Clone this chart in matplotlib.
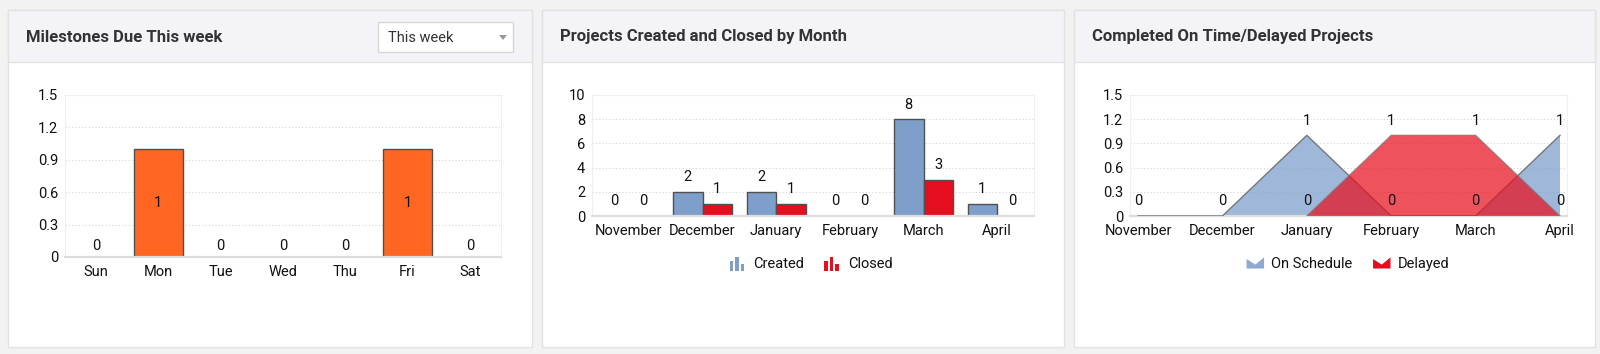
import numpy as np
import matplotlib.pyplot as plt
from matplotlib.patches import Rectangle, Polygon
from matplotlib.legend_handler import HandlerBase
from matplotlib.ticker import FuncFormatter

plt.rcParams['font.family'] = ['Roboto', 'DejaVu Sans']

# ---------------- DATA ----------------
days = ["Sun", "Mon", "Tue", "Wed", "Thu", "Fri", "Sat"]
milestones = [0, 1, 0, 0, 0, 1, 0]

months = ["November", "December", "January", "February", "March", "April"]
created = [0, 2, 2, 0, 8, 1]
closed = [0, 1, 1, 0, 3, 0]

on_schedule = [0, 0, 1, 0, 0, 1]
delayed = [np.nan, np.nan, 0, 1, 1, 0]

# ---------------- STYLE ----------------
W, H = 1600, 354
ORANGE = "#ff6622"
BLUE = "#7f9fcb"
RED = "#e50e1e"
EDGE = "#505050"
TXT = "#111111"
FS = 10.5


def fig_rect(x0, y0, x1, y1):
    # pixel box (from top-left) -> figure fraction [l, b, w, h]
    return [x0 / W, 1 - y1 / H, (x1 - x0) / W, (y1 - y0) / H]


class BarIcon(HandlerBase):
    def create_artists(self, legend, orig_handle, xdescent, ydescent,
                       width, height, fontsize, trans):
        color = orig_handle.get_facecolor()
        bw = width / 4.2
        arts = []
        for k, hf in enumerate([0.7, 1.0, 0.45]):
            arts.append(Rectangle((-xdescent + k * bw * 1.6, -ydescent), bw, height * hf,
                                  facecolor=color, edgecolor="none", transform=trans))
        return arts


class AreaIcon(HandlerBase):
    def create_artists(self, legend, orig_handle, xdescent, ydescent,
                       width, height, fontsize, trans):
        color = orig_handle.get_facecolor()
        x0, y0 = -xdescent, -ydescent
        pts = [(0, 0), (0, 0.85), (0.5, 0.35), (1, 1), (1, 0)]
        poly = Polygon([(x0 + px * width, y0 + py * height) for px, py in pts],
                       closed=True, facecolor=color, edgecolor="none", transform=trans)
        return [poly]


def style_axes(ax, ticks):
    ax.set_ylim(ticks[0], ticks[-1])
    ax.set_yticks(ticks)
    ax.yaxis.set_major_formatter(FuncFormatter(lambda v, p: f"{v:g}"))
    ax.yaxis.grid(True, linestyle=(0, (1, 2)), color="#d5d5d5", lw=0.8)
    ax.set_axisbelow(True)
    for s in ["top", "right", "left"]:
        ax.spines[s].set_color("#efefef")
    ax.spines["bottom"].set_color("#dddddd")
    ax.spines["bottom"].set_linewidth(1.6)
    ax.tick_params(length=0, labelsize=FS, colors=TXT)
    ax.tick_params(axis="y", pad=5)
    ax.tick_params(axis="x", pad=6)


def value_label(ax, x, y, text, dy=10.5):
    ax.annotate(text, (x, y), xytext=(0, dy), textcoords="offset points",
                ha="center", va="center", fontsize=FS, color=TXT, zorder=10)


fig = plt.figure(figsize=(16, 3.54), dpi=100)
fig.patch.set_facecolor("#f2f2f2")

# ---------------- Panels ----------------
panels = [(8, 532, "Milestones Due This week"),
          (542, 1064, "Projects Created and Closed by Month"),
          (1074, 1595, "Completed On Time/Delayed Projects")]
for x0, x1, title in panels:
    l, b, w, h = fig_rect(x0, 10, x1, 347)
    fig.add_artist(Rectangle((l, b), w, h, transform=fig.transFigure, zorder=-10,
                             facecolor="white", edgecolor="#e2e2e2", lw=1))
    l, b, w, h = fig_rect(x0, 10, x1, 62)
    fig.add_artist(Rectangle((l, b), w, h, transform=fig.transFigure, zorder=-9,
                             facecolor="#f4f4f8", edgecolor="#e2e2e2", lw=1))
    fig.text((x0 + 18) / W, 1 - 37 / H, title, fontsize=12, fontweight="bold",
             color="#333333", va="center")

# dropdown in first panel
l, b, w, h = fig_rect(378, 22, 513, 52)
fig.add_artist(Rectangle((l, b), w, h, transform=fig.transFigure, zorder=-8,
                         facecolor="white", edgecolor="#d6d6d6", lw=1))
fig.text(388 / W, 1 - 37.5 / H, "This week", fontsize=10.5, color="#333333", va="center")
fig.add_artist(Polygon([(499 / W, 1 - 35 / H), (507 / W, 1 - 35 / H), (503 / W, 1 - 40 / H)],
                       closed=True, transform=fig.transFigure, facecolor="#999999",
                       edgecolor="none"))

# ---------------- Chart 1: Milestones ----------------
ax1 = fig.add_axes(fig_rect(65, 95, 501, 257))
x = np.arange(len(days))
ax1.bar(x, milestones, width=0.78, color=ORANGE,
        edgecolor=[EDGE if v else "none" for v in milestones], lw=1)
style_axes(ax1, np.linspace(0, 1.5, 6))
ax1.set_xlim(-0.5, len(days) - 0.5)
ax1.set_xticks(x)
ax1.set_xticklabels(days)
for i, v in enumerate(milestones):
    if v:
        value_label(ax1, i, v / 2, str(v), dy=0)
    else:
        value_label(ax1, i, 0, str(v), dy=8)

# ---------------- Chart 2: Created / Closed ----------------
ax2 = fig.add_axes(fig_rect(592, 95, 1034, 216))
x = np.arange(len(months))
ax2.bar(x - 0.2, created, width=0.4, color=BLUE,
        edgecolor=[EDGE if v else "none" for v in created], lw=1)
ax2.bar(x + 0.2, closed, width=0.4, color=RED,
        edgecolor=[EDGE if v else "none" for v in closed], lw=1)
style_axes(ax2, np.arange(0, 11, 2))
ax2.set_xlim(-0.5, len(months) - 0.5)
ax2.set_xticks(x)
ax2.set_xticklabels(months)
for i in range(len(months)):
    value_label(ax2, i - 0.2, created[i], str(created[i]))
    value_label(ax2, i + 0.2, closed[i], str(closed[i]))

h_created = Rectangle((0, 0), 1, 1, facecolor=BLUE)
h_closed = Rectangle((0, 0), 1, 1, facecolor=RED)
ax2.legend([h_created, h_closed], ["Created", "Closed"], ncol=2, frameon=False,
           loc="center", bbox_to_anchor=(811 / W, 1 - 264 / H),
           bbox_transform=fig.transFigure, fontsize=FS, labelcolor=TXT,
           handlelength=1.0, handleheight=1.1, handletextpad=0.6, columnspacing=1.4,
           handler_map={h_created: BarIcon(), h_closed: BarIcon()})

# ---------------- Chart 3: On time / Delayed ----------------
ax3 = fig.add_axes(fig_rect(1130, 95, 1567, 216))
x = np.arange(len(months))
blue_fill = (0x7f / 255, 0x9f / 255, 0xcb / 255, 0.75)
red_fill = (0xe8 / 255, 0x10 / 255, 0x1e / 255, 0.72)
on_arr = np.array(on_schedule, dtype=float)
del_arr = np.array(delayed, dtype=float)
ax3.fill_between(x, 0, on_arr, facecolor=blue_fill, edgecolor="none", zorder=2)
ax3.plot(x, on_arr, color="#777777", lw=1, zorder=3)
ax3.fill_between(x, 0, del_arr, facecolor=red_fill, edgecolor="none", zorder=4)
ax3.plot(x, del_arr, color="#777777", lw=1, alpha=0.7, zorder=5)
style_axes(ax3, np.linspace(0, 1.5, 6))
ax3.set_xlim(-0.095, 5.083)
ax3.set_xticks(x)
ax3.set_xticklabels(months)
for i in range(len(months)):
    value_label(ax3, i, on_arr[i], f"{on_schedule[i]:g}")
    if not np.isnan(del_arr[i]):
        value_label(ax3, i, del_arr[i], f"{delayed[i]:g}")

h_on = Rectangle((0, 0), 1, 1, facecolor="#8ea9d2")
h_del = Rectangle((0, 0), 1, 1, facecolor=RED)
ax3.legend([h_on, h_del], ["On Schedule", "Delayed"], ncol=2, frameon=False,
           loc="center", bbox_to_anchor=(1348 / W, 1 - 264 / H),
           bbox_transform=fig.transFigure, fontsize=FS, labelcolor=TXT,
           handlelength=1.2, handleheight=0.8, handletextpad=0.5, columnspacing=1.4,
           handler_map={h_on: AreaIcon(), h_del: AreaIcon()})

fig.savefig("out.png", dpi=100, facecolor=fig.get_facecolor())
